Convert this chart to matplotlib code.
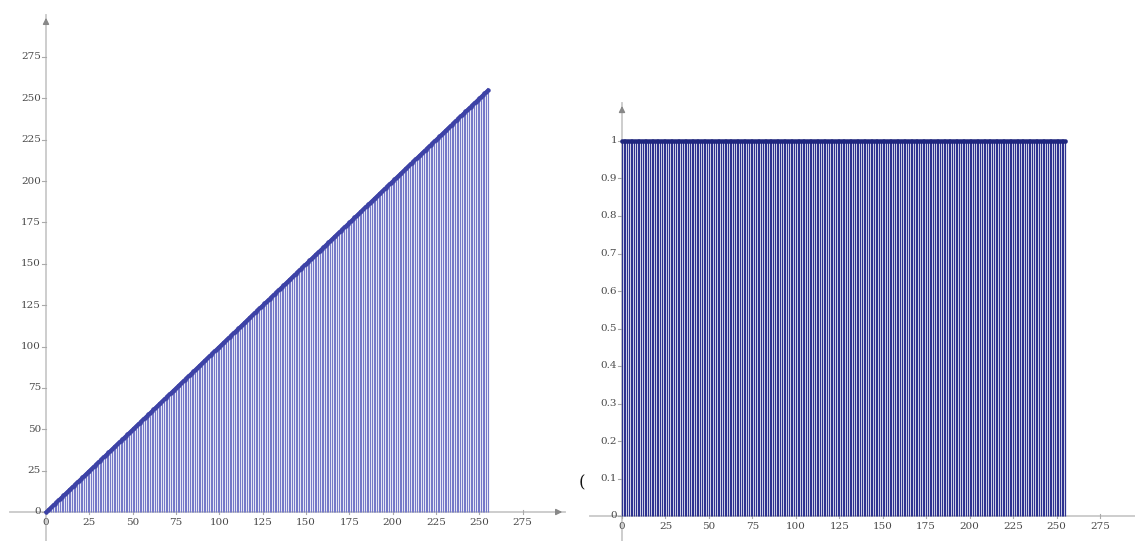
import matplotlib
matplotlib.use("Agg")
import matplotlib.pyplot as plt
import numpy as np

# Pixel levels 0..255
levels = list(range(256))
# Left: mapping value per level (identity transform)
identity_values = list(range(256))
# Right: constant value per level
constant_values = [1] * 256

left_xticks = [0, 25, 50, 75, 100, 125, 150, 175, 200, 225, 250, 275]
left_yticks = [0, 25, 50, 75, 100, 125, 150, 175, 200, 225, 250, 275]
right_xticks = [0, 25, 50, 75, 100, 125, 150, 175, 200, 225, 250, 275]
right_yticks = [0, 0.1, 0.2, 0.3, 0.4, 0.5, 0.6, 0.7, 0.8, 0.9, 1]
right_ylabels = ["0", "0.1", "0.2", "0.3", "0.4", "0.5", "0.6", "0.7", "0.8", "0.9", "1"]

plt.rcParams["font.family"] = ["DejaVu Serif"]

W, H = 1135, 541
fig = plt.figure(figsize=(W / 100, H / 100), dpi=100)

AXIS_C = "#c9c9c9"
TICK_TXT = "#4a4a4a"
TICK_FS = 7.5


def draw_axes(ax, x0, x1, y0, ytop, xarrow=True):
    for s in ax.spines.values():
        s.set_visible(False)
    ax.set_xticks([])
    ax.set_yticks([])
    ax.patch.set_alpha(0)
    # x axis
    ax.plot([x0, x1], [0, 0], color=AXIS_C, lw=1.3, zorder=1, clip_on=False)
    if xarrow:
        ax.annotate("", xy=(x1, 0), xytext=(x1 - 6, 0),
                    arrowprops=dict(arrowstyle="-|>", color="#888888", lw=1.0,
                                    mutation_scale=9), zorder=1)
    # y axis
    ax.plot([0, 0], [y0, ytop], color=AXIS_C, lw=1.3, zorder=1, clip_on=False)
    ax.annotate("", xy=(0, ytop), xytext=(0, ytop - (ytop - y0) * 0.02),
                arrowprops=dict(arrowstyle="-|>", color="#888888", lw=1.0,
                                mutation_scale=9), zorder=1)


# ---------------- left panel ----------------
ax1 = fig.add_axes([0, 0, 567.5 / W, 1])
ax1.set_xlim((0 - 46) / 1.733, (567.5 - 46) / 1.733)
ax1.set_ylim((512 - 541) / 1.655, 512 / 1.655)
draw_axes(ax1, -20.8, 299.5, -20, 300.3)

ax1.vlines(levels, 0, identity_values, color="#7478c8", lw=0.85, zorder=2)
ax1.plot(levels, identity_values, "o", color="#3d42a6", ms=3.2, mew=0, zorder=3)
ax1.plot(levels, identity_values, "-", color="#3d42a6", lw=2.2, zorder=3)

xpx = 1 / 1.733
ypx = 1 / 1.655
for t in left_xticks:
    ax1.plot([t, t], [-2 * ypx, 2 * ypx], color="#aaaaaa", lw=0.8, zorder=1)
    ax1.text(t, -6 * ypx, str(t), ha="center", va="top", fontsize=TICK_FS, color=TICK_TXT)
for t in left_yticks:
    ax1.plot([-4 * xpx, 0], [t, t], color="#aaaaaa", lw=0.8, zorder=1)
    ax1.text(-5 * xpx, t, str(t), ha="right", va="center", fontsize=TICK_FS, color=TICK_TXT)

# ---------------- right panel ----------------
ax2 = fig.add_axes([567.5 / W, 0, 1 - 567.5 / W, 1])
ax2.set_xlim((567.5 - 622) / 1.738, (1135 - 622) / 1.738)
ax2.set_ylim((516 - 541) / 375, 516 / 375)
draw_axes(ax2, -18.4, 295.2, -0.07, 1.101, xarrow=False)

ax2.vlines(levels, 0, constant_values, color="#2d3290", lw=0.9, zorder=2)
ax2.plot(levels, constant_values, "o", color="#1f267e", ms=3.2, mew=0, zorder=3)
ax2.plot(levels, constant_values, "-", color="#1f267e", lw=2.4, zorder=3)

xpx2 = 1 / 1.738
ypx2 = 1 / 375
for t in right_xticks:
    ax2.plot([t, t], [-2 * ypx2, 2 * ypx2], color="#aaaaaa", lw=0.8, zorder=1)
    ax2.text(t, -6 * ypx2, str(t), ha="center", va="top", fontsize=TICK_FS, color=TICK_TXT)
for t, lab in zip(right_yticks, right_ylabels):
    ax2.plot([-4 * xpx2, 0], [t, t], color="#aaaaaa", lw=0.8, zorder=1)
    ax2.text(-5 * xpx2, t, lab, ha="right", va="center", fontsize=TICK_FS, color=TICK_TXT)

fig.text(582 / W, 1 - 483 / H, "(", ha="center", va="center", fontsize=12, color="#111111")

fig.savefig("out.png", dpi=100)
